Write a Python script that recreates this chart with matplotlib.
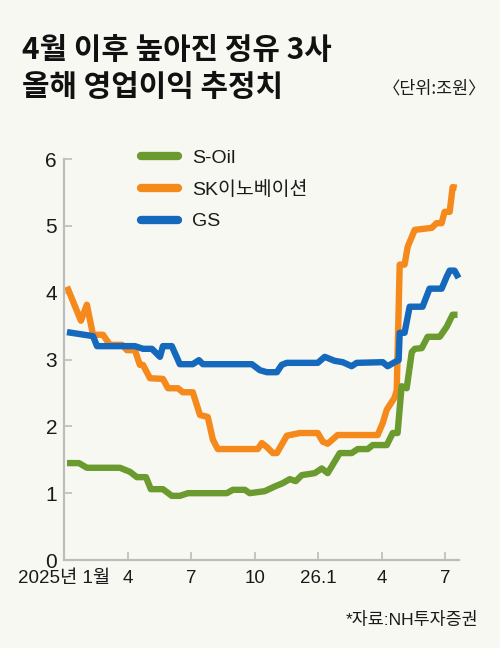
import matplotlib
matplotlib.use("Agg")
import matplotlib.pyplot as plt
from matplotlib import font_manager as fm
from matplotlib.lines import Line2D

# ---------------- data (x = months since Jan 2025) ----------------
soil_x = [0.14, 0.71, 1.08, 2.64, 3.11, 3.44, 3.87, 4.10, 4.67, 5.09, 5.47, 5.85,
          7.69, 7.97, 8.54, 8.77, 9.48, 9.95, 10.33, 10.66, 10.94, 11.23, 11.84,
          12.17, 12.45, 13.02, 13.58, 13.87, 14.34, 14.58, 15.24, 15.52, 15.75,
          15.94, 16.18, 16.42, 16.56, 16.89, 17.17, 17.74, 18.07, 18.35, 18.58]
soil_y = [1.45, 1.45, 1.38, 1.38, 1.32, 1.24, 1.24, 1.06, 1.06, 0.96, 0.96, 1.00,
          1.00, 1.05, 1.05, 1.00, 1.03, 1.10, 1.15, 1.21, 1.18, 1.27, 1.30,
          1.37, 1.30, 1.60, 1.60, 1.66, 1.66, 1.72, 1.72, 1.90, 1.90,
          2.60, 2.57, 3.11, 3.16, 3.17, 3.34, 3.34, 3.49, 3.67, 3.67]

sk_x = [0.14, 0.80, 1.08, 1.37, 1.84, 2.17, 2.74, 2.97, 3.35, 3.58, 3.73, 4.06,
        4.67, 4.91, 5.38, 5.61, 6.08, 6.42, 6.79, 7.03, 7.26, 9.15, 9.34, 9.58,
        9.86, 10.05, 10.52, 11.13, 11.98, 12.22, 12.45, 12.92, 14.81, 15.05,
        15.24, 15.61, 15.71, 15.85, 16.08, 16.23, 16.56, 17.36, 17.59, 17.83,
        17.97, 18.21, 18.35, 18.54]
sk_y = [4.09, 3.58, 3.82, 3.37, 3.37, 3.22, 3.22, 3.14, 3.14, 2.92, 2.92, 2.72,
        2.71, 2.57, 2.57, 2.51, 2.51, 2.17, 2.14, 1.80, 1.66, 1.66, 1.75, 1.69,
        1.60, 1.60, 1.86, 1.90, 1.90, 1.77, 1.74, 1.87, 1.87, 2.05,
        2.25, 2.43, 2.54, 4.42, 4.42, 4.69, 4.94, 4.97, 5.04, 5.04,
        5.21, 5.21, 5.58, 5.57]

gs_x = [0.14, 1.37, 1.56, 3.35, 3.73, 4.15, 4.53, 4.67, 5.09, 5.47, 6.08, 6.37,
        6.56, 8.87, 9.25, 9.58, 10.05, 10.28, 10.52, 11.98, 12.31, 12.78, 13.16,
        13.58, 13.82, 15.05, 15.28, 15.61, 15.80, 15.85, 16.08, 16.32, 16.93,
        17.26, 17.83, 18.07, 18.21, 18.44, 18.63]
gs_y = [3.41, 3.35, 3.20, 3.20, 3.16, 3.16, 3.04, 3.20, 3.20, 2.93, 2.93, 2.99,
        2.93, 2.93, 2.84, 2.81, 2.81, 2.92, 2.95, 2.95, 3.04, 2.98, 2.96,
        2.90, 2.95, 2.96, 2.90, 2.96, 2.99, 3.40, 3.40, 3.79, 3.79,
        4.06, 4.06, 4.24, 4.33, 4.33, 4.22]

series_names = ["S-Oil", "SK이노베이션", "GS"]
xtick_pos = [0, 3, 6, 9, 12, 15, 18]
xtick_labels = ["2025년 1월", "4", "7", "10", "26.1", "4", "7"]
ytick_vals = [0, 1, 2, 3, 4, 5, 6]

title_lines = "4월 이후 높아진 정유 3사\n올해 영업이익 추정치"
unit_text = "〈단위:조원〉"
source_text = "*자료:NH투자증권"

# ---------------- style ----------------
BG = "#f8f8f3"
GREEN = "#6b9a2f"
ORANGE = "#f5891c"
BLUE = "#1469bd"
AXIS = "#bdbdbd"
TXT = "#1a1a1a"

installed = {f.name for f in fm.fontManager.ttflist}
narrow = "Liberation Sans Narrow" if "Liberation Sans Narrow" in installed else "Liberation Sans"
FAM = [narrow, "Noto Sans CJK KR", "DejaVu Sans"]
FAM_REG = ["Liberation Sans", "Noto Sans CJK KR", "DejaVu Sans"]
plt.rcParams["font.family"] = FAM

fig = plt.figure(figsize=(5.0, 6.48), dpi=100, facecolor=BG)
ax = fig.add_axes([0.128, 0.1358, 0.918 - 0.128, 0.7546 - 0.1358])
ax.set_facecolor(BG)

lw = 4.6
ax.plot(soil_x, soil_y, color=GREEN, lw=lw, solid_joinstyle="round", solid_capstyle="butt", clip_on=False, zorder=3)
ax.plot(sk_x, sk_y, color=ORANGE, lw=lw, solid_joinstyle="round", solid_capstyle="butt", clip_on=False, zorder=2)
ax.plot(gs_x, gs_y, color=BLUE, lw=lw, solid_joinstyle="round", solid_capstyle="butt", clip_on=False, zorder=4)

ax.set_xlim(0, 18.65)
ax.set_ylim(0, 6)
for s in ["top", "right"]:
    ax.spines[s].set_visible(False)
for s in ["left", "bottom"]:
    ax.spines[s].set_color(AXIS)
    ax.spines[s].set_linewidth(1.6)

ax.set_yticks(ytick_vals)
ax.set_yticklabels([str(v) for v in ytick_vals])
ax.set_xticks(xtick_pos)
ax.set_xticklabels(xtick_labels)
ax.tick_params(axis="both", direction="in", length=6, width=1.2, color=AXIS, labelcolor=TXT)
ax.tick_params(axis="y", pad=5, labelsize=15)
ax.tick_params(axis="x", pad=7, labelsize=13.5)

# legend
handles = [Line2D([], [], color=c, lw=6, solid_capstyle="round") for c in (GREEN, ORANGE, BLUE)]
leg = fig.legend(handles, series_names, loc="upper left", bbox_to_anchor=(0.246, 0.797),
                 frameon=False, handlelength=1.95, handletextpad=0.72, labelspacing=0.72,
                 prop={"family": FAM_REG, "size": 14})
for t in leg.get_texts():
    t.set_color(TXT)

# titles
fig.text(0.044, 0.946, title_lines, ha="left", va="top", fontsize=21.5, fontweight="bold",
         family=["Noto Sans CJK KR", "DejaVu Sans"], color="#111111", linespacing=1.28)
fig.text(0.972, 0.864, unit_text, ha="right", va="center", fontsize=12.5,
         family=["Noto Sans CJK KR", "DejaVu Sans"], color=TXT)
fig.text(0.956, 0.043, source_text, ha="right", va="center", fontsize=12.5,
         family=FAM, color=TXT)

fig.savefig("out.png", dpi=100, facecolor=BG)
